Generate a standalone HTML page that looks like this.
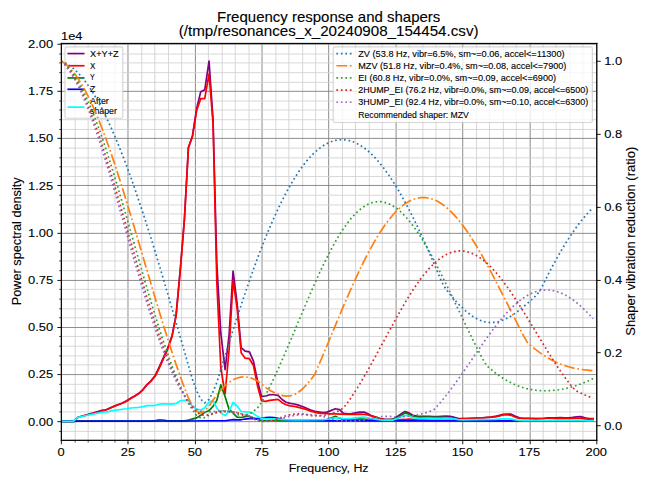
<!DOCTYPE html>
<html><head><meta charset="utf-8"><title>Frequency response and shapers</title><style>html,body{margin:0;padding:0;background:#fff;overflow:hidden}svg{display:block;font-family:"Liberation Sans",sans-serif}text{stroke:#000;stroke-width:0.18px;stroke-opacity:0.6}</style></head><body>
<svg width="650" height="487" preserveAspectRatio="none" viewBox="0 0 576 432" version="1.1">
<defs>
<style type="text/css">*{stroke-linejoin: round; stroke-linecap: butt}</style>
</defs>
<g id="figure_1">
<g id="patch_1">
<path d="M 0 432 
L 576 432 
L 576 0 
L 0 0 
z
" style="fill: #ffffff"/>
</g>
<g id="axes_1">
<g id="patch_2">
<path d="M 54.099692 389.90883 
L 528.369231 389.90883 
L 528.369231 38.143737 
L 54.099692 38.143737 
z
" style="fill: #ffffff"/>
</g>
<g id="matplotlib.axis_1">
<g id="xtick_1">
<g id="line2d_1">
<path d="M 54.3600 390.6000 L 54.3600 38.5200" clip-path="url(#pc51467b4bf)" style="fill: none; stroke: #808080; stroke-width: 0.8; stroke-linecap: square"/>
</g>
<g id="line2d_2">
<defs>
<path id="m7c25c535dc" d="M 0 0 
L 0 3.5 
" style="stroke: #000000; stroke-width: 0.8"/>
</defs>
<g>
<use href="#m7c25c535dc" x="54.3600" y="390.6000" style="stroke: #000000; stroke-width: 0.8"/>
</g>
</g>
<g id="text_1">
<text textLength="6.36" lengthAdjust="spacingAndGlyphs" style="font-size: 10.500px; font-family: 'Liberation Sans'; text-anchor: middle" x="54.099692" y="404.507267" transform="rotate(-0 54.099692 404.507267)">0</text>
</g>
</g>
<g id="xtick_2">
<g id="line2d_3">
<path d="M 113.4000 390.6000 L 113.4000 38.5200" clip-path="url(#pc51467b4bf)" style="fill: none; stroke: #808080; stroke-width: 0.8; stroke-linecap: square"/>
</g>
<g id="line2d_4">
<g>
<use href="#m7c25c535dc" x="113.4000" y="390.6000" style="stroke: #000000; stroke-width: 0.8"/>
</g>
</g>
<g id="text_2">
<text textLength="12.72" lengthAdjust="spacingAndGlyphs" style="font-size: 10.500px; font-family: 'Liberation Sans'; text-anchor: middle" x="113.383385" y="404.507267" transform="rotate(-0 113.383385 404.507267)">25</text>
</g>
</g>
<g id="xtick_3">
<g id="line2d_5">
<path d="M 173.1600 390.6000 L 173.1600 38.5200" clip-path="url(#pc51467b4bf)" style="fill: none; stroke: #808080; stroke-width: 0.8; stroke-linecap: square"/>
</g>
<g id="line2d_6">
<g>
<use href="#m7c25c535dc" x="173.1600" y="390.6000" style="stroke: #000000; stroke-width: 0.8"/>
</g>
</g>
<g id="text_3">
<text textLength="12.72" lengthAdjust="spacingAndGlyphs" style="font-size: 10.500px; font-family: 'Liberation Sans'; text-anchor: middle" x="172.667077" y="404.507267" transform="rotate(-0 172.667077 404.507267)">50</text>
</g>
</g>
<g id="xtick_4">
<g id="line2d_7">
<path d="M 232.2000 390.6000 L 232.2000 38.5200" clip-path="url(#pc51467b4bf)" style="fill: none; stroke: #808080; stroke-width: 0.8; stroke-linecap: square"/>
</g>
<g id="line2d_8">
<g>
<use href="#m7c25c535dc" x="232.2000" y="390.6000" style="stroke: #000000; stroke-width: 0.8"/>
</g>
</g>
<g id="text_4">
<text textLength="12.72" lengthAdjust="spacingAndGlyphs" style="font-size: 10.500px; font-family: 'Liberation Sans'; text-anchor: middle" x="231.950769" y="404.507267" transform="rotate(-0 231.950769 404.507267)">75</text>
</g>
</g>
<g id="xtick_5">
<g id="line2d_9">
<path d="M 291.2400 390.6000 L 291.2400 38.5200" clip-path="url(#pc51467b4bf)" style="fill: none; stroke: #808080; stroke-width: 0.8; stroke-linecap: square"/>
</g>
<g id="line2d_10">
<g>
<use href="#m7c25c535dc" x="291.2400" y="390.6000" style="stroke: #000000; stroke-width: 0.8"/>
</g>
</g>
<g id="text_5">
<text textLength="19.09" lengthAdjust="spacingAndGlyphs" style="font-size: 10.500px; font-family: 'Liberation Sans'; text-anchor: middle" x="291.234462" y="404.507267" transform="rotate(-0 291.234462 404.507267)">100</text>
</g>
</g>
<g id="xtick_6">
<g id="line2d_11">
<path d="M 351.0000 390.6000 L 351.0000 38.5200" clip-path="url(#pc51467b4bf)" style="fill: none; stroke: #808080; stroke-width: 0.8; stroke-linecap: square"/>
</g>
<g id="line2d_12">
<g>
<use href="#m7c25c535dc" x="351.0000" y="390.6000" style="stroke: #000000; stroke-width: 0.8"/>
</g>
</g>
<g id="text_6">
<text textLength="19.09" lengthAdjust="spacingAndGlyphs" style="font-size: 10.500px; font-family: 'Liberation Sans'; text-anchor: middle" x="350.518154" y="404.507267" transform="rotate(-0 350.518154 404.507267)">125</text>
</g>
</g>
<g id="xtick_7">
<g id="line2d_13">
<path d="M 410.0400 390.6000 L 410.0400 38.5200" clip-path="url(#pc51467b4bf)" style="fill: none; stroke: #808080; stroke-width: 0.8; stroke-linecap: square"/>
</g>
<g id="line2d_14">
<g>
<use href="#m7c25c535dc" x="410.0400" y="390.6000" style="stroke: #000000; stroke-width: 0.8"/>
</g>
</g>
<g id="text_7">
<text textLength="19.09" lengthAdjust="spacingAndGlyphs" style="font-size: 10.500px; font-family: 'Liberation Sans'; text-anchor: middle" x="409.801846" y="404.507267" transform="rotate(-0 409.801846 404.507267)">150</text>
</g>
</g>
<g id="xtick_8">
<g id="line2d_15">
<path d="M 469.8000 390.6000 L 469.8000 38.5200" clip-path="url(#pc51467b4bf)" style="fill: none; stroke: #808080; stroke-width: 0.8; stroke-linecap: square"/>
</g>
<g id="line2d_16">
<g>
<use href="#m7c25c535dc" x="469.8000" y="390.6000" style="stroke: #000000; stroke-width: 0.8"/>
</g>
</g>
<g id="text_8">
<text textLength="19.09" lengthAdjust="spacingAndGlyphs" style="font-size: 10.500px; font-family: 'Liberation Sans'; text-anchor: middle" x="469.085538" y="404.507267" transform="rotate(-0 469.085538 404.507267)">175</text>
</g>
</g>
<g id="xtick_9">
<g id="line2d_17">
<path d="M 528.8400 390.6000 L 528.8400 38.5200" clip-path="url(#pc51467b4bf)" style="fill: none; stroke: #808080; stroke-width: 0.8; stroke-linecap: square"/>
</g>
<g id="line2d_18">
<g>
<use href="#m7c25c535dc" x="528.8400" y="390.6000" style="stroke: #000000; stroke-width: 0.8"/>
</g>
</g>
<g id="text_9">
<text textLength="19.09" lengthAdjust="spacingAndGlyphs" style="font-size: 10.500px; font-family: 'Liberation Sans'; text-anchor: middle" x="528.369231" y="404.507267" transform="rotate(-0 528.369231 404.507267)">200</text>
</g>
</g>
<g id="xtick_10">
<g id="line2d_19">
<path d="M 66.6000 390.6000 L 66.6000 38.5200" clip-path="url(#pc51467b4bf)" style="fill: none; stroke: #d3d3d3; stroke-width: 0.8; stroke-linecap: square"/>
</g>
<g id="line2d_20">
<defs>
<path id="m0d65b069a9" d="M 0 0 
L 0 2 
" style="stroke: #000000; stroke-width: 0.6"/>
</defs>
<g>
<use href="#m0d65b069a9" x="66.6000" y="390.6000" style="stroke: #000000; stroke-width: 0.6"/>
</g>
</g>
</g>
<g id="xtick_11">
<g id="line2d_21">
<path d="M 78.1200 390.6000 L 78.1200 38.5200" clip-path="url(#pc51467b4bf)" style="fill: none; stroke: #d3d3d3; stroke-width: 0.8; stroke-linecap: square"/>
</g>
<g id="line2d_22">
<g>
<use href="#m0d65b069a9" x="78.1200" y="390.6000" style="stroke: #000000; stroke-width: 0.6"/>
</g>
</g>
</g>
<g id="xtick_12">
<g id="line2d_23">
<path d="M 90.3600 390.6000 L 90.3600 38.5200" clip-path="url(#pc51467b4bf)" style="fill: none; stroke: #d3d3d3; stroke-width: 0.8; stroke-linecap: square"/>
</g>
<g id="line2d_24">
<g>
<use href="#m0d65b069a9" x="90.3600" y="390.6000" style="stroke: #000000; stroke-width: 0.6"/>
</g>
</g>
</g>
<g id="xtick_13">
<g id="line2d_25">
<path d="M 101.8800 390.6000 L 101.8800 38.5200" clip-path="url(#pc51467b4bf)" style="fill: none; stroke: #d3d3d3; stroke-width: 0.8; stroke-linecap: square"/>
</g>
<g id="line2d_26">
<g>
<use href="#m0d65b069a9" x="101.8800" y="390.6000" style="stroke: #000000; stroke-width: 0.6"/>
</g>
</g>
</g>
<g id="xtick_14">
<g id="line2d_27">
<path d="M 125.6400 390.6000 L 125.6400 38.5200" clip-path="url(#pc51467b4bf)" style="fill: none; stroke: #d3d3d3; stroke-width: 0.8; stroke-linecap: square"/>
</g>
<g id="line2d_28">
<g>
<use href="#m0d65b069a9" x="125.6400" y="390.6000" style="stroke: #000000; stroke-width: 0.6"/>
</g>
</g>
</g>
<g id="xtick_15">
<g id="line2d_29">
<path d="M 137.1600 390.6000 L 137.1600 38.5200" clip-path="url(#pc51467b4bf)" style="fill: none; stroke: #d3d3d3; stroke-width: 0.8; stroke-linecap: square"/>
</g>
<g id="line2d_30">
<g>
<use href="#m0d65b069a9" x="137.1600" y="390.6000" style="stroke: #000000; stroke-width: 0.6"/>
</g>
</g>
</g>
<g id="xtick_16">
<g id="line2d_31">
<path d="M 149.4000 390.6000 L 149.4000 38.5200" clip-path="url(#pc51467b4bf)" style="fill: none; stroke: #d3d3d3; stroke-width: 0.8; stroke-linecap: square"/>
</g>
<g id="line2d_32">
<g>
<use href="#m0d65b069a9" x="149.4000" y="390.6000" style="stroke: #000000; stroke-width: 0.6"/>
</g>
</g>
</g>
<g id="xtick_17">
<g id="line2d_33">
<path d="M 160.9200 390.6000 L 160.9200 38.5200" clip-path="url(#pc51467b4bf)" style="fill: none; stroke: #d3d3d3; stroke-width: 0.8; stroke-linecap: square"/>
</g>
<g id="line2d_34">
<g>
<use href="#m0d65b069a9" x="160.9200" y="390.6000" style="stroke: #000000; stroke-width: 0.6"/>
</g>
</g>
</g>
<g id="xtick_18">
<g id="line2d_35">
<path d="M 184.6800 390.6000 L 184.6800 38.5200" clip-path="url(#pc51467b4bf)" style="fill: none; stroke: #d3d3d3; stroke-width: 0.8; stroke-linecap: square"/>
</g>
<g id="line2d_36">
<g>
<use href="#m0d65b069a9" x="184.6800" y="390.6000" style="stroke: #000000; stroke-width: 0.6"/>
</g>
</g>
</g>
<g id="xtick_19">
<g id="line2d_37">
<path d="M 196.9200 390.6000 L 196.9200 38.5200" clip-path="url(#pc51467b4bf)" style="fill: none; stroke: #d3d3d3; stroke-width: 0.8; stroke-linecap: square"/>
</g>
<g id="line2d_38">
<g>
<use href="#m0d65b069a9" x="196.9200" y="390.6000" style="stroke: #000000; stroke-width: 0.6"/>
</g>
</g>
</g>
<g id="xtick_20">
<g id="line2d_39">
<path d="M 208.4400 390.6000 L 208.4400 38.5200" clip-path="url(#pc51467b4bf)" style="fill: none; stroke: #d3d3d3; stroke-width: 0.8; stroke-linecap: square"/>
</g>
<g id="line2d_40">
<g>
<use href="#m0d65b069a9" x="208.4400" y="390.6000" style="stroke: #000000; stroke-width: 0.6"/>
</g>
</g>
</g>
<g id="xtick_21">
<g id="line2d_41">
<path d="M 220.6800 390.6000 L 220.6800 38.5200" clip-path="url(#pc51467b4bf)" style="fill: none; stroke: #d3d3d3; stroke-width: 0.8; stroke-linecap: square"/>
</g>
<g id="line2d_42">
<g>
<use href="#m0d65b069a9" x="220.6800" y="390.6000" style="stroke: #000000; stroke-width: 0.6"/>
</g>
</g>
</g>
<g id="xtick_22">
<g id="line2d_43">
<path d="M 244.4400 390.6000 L 244.4400 38.5200" clip-path="url(#pc51467b4bf)" style="fill: none; stroke: #d3d3d3; stroke-width: 0.8; stroke-linecap: square"/>
</g>
<g id="line2d_44">
<g>
<use href="#m0d65b069a9" x="244.4400" y="390.6000" style="stroke: #000000; stroke-width: 0.6"/>
</g>
</g>
</g>
<g id="xtick_23">
<g id="line2d_45">
<path d="M 255.9600 390.6000 L 255.9600 38.5200" clip-path="url(#pc51467b4bf)" style="fill: none; stroke: #d3d3d3; stroke-width: 0.8; stroke-linecap: square"/>
</g>
<g id="line2d_46">
<g>
<use href="#m0d65b069a9" x="255.9600" y="390.6000" style="stroke: #000000; stroke-width: 0.6"/>
</g>
</g>
</g>
<g id="xtick_24">
<g id="line2d_47">
<path d="M 268.2000 390.6000 L 268.2000 38.5200" clip-path="url(#pc51467b4bf)" style="fill: none; stroke: #d3d3d3; stroke-width: 0.8; stroke-linecap: square"/>
</g>
<g id="line2d_48">
<g>
<use href="#m0d65b069a9" x="268.2000" y="390.6000" style="stroke: #000000; stroke-width: 0.6"/>
</g>
</g>
</g>
<g id="xtick_25">
<g id="line2d_49">
<path d="M 279.7200 390.6000 L 279.7200 38.5200" clip-path="url(#pc51467b4bf)" style="fill: none; stroke: #d3d3d3; stroke-width: 0.8; stroke-linecap: square"/>
</g>
<g id="line2d_50">
<g>
<use href="#m0d65b069a9" x="279.7200" y="390.6000" style="stroke: #000000; stroke-width: 0.6"/>
</g>
</g>
</g>
<g id="xtick_26">
<g id="line2d_51">
<path d="M 303.4800 390.6000 L 303.4800 38.5200" clip-path="url(#pc51467b4bf)" style="fill: none; stroke: #d3d3d3; stroke-width: 0.8; stroke-linecap: square"/>
</g>
<g id="line2d_52">
<g>
<use href="#m0d65b069a9" x="303.4800" y="390.6000" style="stroke: #000000; stroke-width: 0.6"/>
</g>
</g>
</g>
<g id="xtick_27">
<g id="line2d_53">
<path d="M 315.0000 390.6000 L 315.0000 38.5200" clip-path="url(#pc51467b4bf)" style="fill: none; stroke: #d3d3d3; stroke-width: 0.8; stroke-linecap: square"/>
</g>
<g id="line2d_54">
<g>
<use href="#m0d65b069a9" x="315.0000" y="390.6000" style="stroke: #000000; stroke-width: 0.6"/>
</g>
</g>
</g>
<g id="xtick_28">
<g id="line2d_55">
<path d="M 327.2400 390.6000 L 327.2400 38.5200" clip-path="url(#pc51467b4bf)" style="fill: none; stroke: #d3d3d3; stroke-width: 0.8; stroke-linecap: square"/>
</g>
<g id="line2d_56">
<g>
<use href="#m0d65b069a9" x="327.2400" y="390.6000" style="stroke: #000000; stroke-width: 0.6"/>
</g>
</g>
</g>
<g id="xtick_29">
<g id="line2d_57">
<path d="M 338.7600 390.6000 L 338.7600 38.5200" clip-path="url(#pc51467b4bf)" style="fill: none; stroke: #d3d3d3; stroke-width: 0.8; stroke-linecap: square"/>
</g>
<g id="line2d_58">
<g>
<use href="#m0d65b069a9" x="338.7600" y="390.6000" style="stroke: #000000; stroke-width: 0.6"/>
</g>
</g>
</g>
<g id="xtick_30">
<g id="line2d_59">
<path d="M 362.5200 390.6000 L 362.5200 38.5200" clip-path="url(#pc51467b4bf)" style="fill: none; stroke: #d3d3d3; stroke-width: 0.8; stroke-linecap: square"/>
</g>
<g id="line2d_60">
<g>
<use href="#m0d65b069a9" x="362.5200" y="390.6000" style="stroke: #000000; stroke-width: 0.6"/>
</g>
</g>
</g>
<g id="xtick_31">
<g id="line2d_61">
<path d="M 374.7600 390.6000 L 374.7600 38.5200" clip-path="url(#pc51467b4bf)" style="fill: none; stroke: #d3d3d3; stroke-width: 0.8; stroke-linecap: square"/>
</g>
<g id="line2d_62">
<g>
<use href="#m0d65b069a9" x="374.7600" y="390.6000" style="stroke: #000000; stroke-width: 0.6"/>
</g>
</g>
</g>
<g id="xtick_32">
<g id="line2d_63">
<path d="M 386.2800 390.6000 L 386.2800 38.5200" clip-path="url(#pc51467b4bf)" style="fill: none; stroke: #d3d3d3; stroke-width: 0.8; stroke-linecap: square"/>
</g>
<g id="line2d_64">
<g>
<use href="#m0d65b069a9" x="386.2800" y="390.6000" style="stroke: #000000; stroke-width: 0.6"/>
</g>
</g>
</g>
<g id="xtick_33">
<g id="line2d_65">
<path d="M 398.5200 390.6000 L 398.5200 38.5200" clip-path="url(#pc51467b4bf)" style="fill: none; stroke: #d3d3d3; stroke-width: 0.8; stroke-linecap: square"/>
</g>
<g id="line2d_66">
<g>
<use href="#m0d65b069a9" x="398.5200" y="390.6000" style="stroke: #000000; stroke-width: 0.6"/>
</g>
</g>
</g>
<g id="xtick_34">
<g id="line2d_67">
<path d="M 422.2800 390.6000 L 422.2800 38.5200" clip-path="url(#pc51467b4bf)" style="fill: none; stroke: #d3d3d3; stroke-width: 0.8; stroke-linecap: square"/>
</g>
<g id="line2d_68">
<g>
<use href="#m0d65b069a9" x="422.2800" y="390.6000" style="stroke: #000000; stroke-width: 0.6"/>
</g>
</g>
</g>
<g id="xtick_35">
<g id="line2d_69">
<path d="M 433.8000 390.6000 L 433.8000 38.5200" clip-path="url(#pc51467b4bf)" style="fill: none; stroke: #d3d3d3; stroke-width: 0.8; stroke-linecap: square"/>
</g>
<g id="line2d_70">
<g>
<use href="#m0d65b069a9" x="433.8000" y="390.6000" style="stroke: #000000; stroke-width: 0.6"/>
</g>
</g>
</g>
<g id="xtick_36">
<g id="line2d_71">
<path d="M 446.0400 390.6000 L 446.0400 38.5200" clip-path="url(#pc51467b4bf)" style="fill: none; stroke: #d3d3d3; stroke-width: 0.8; stroke-linecap: square"/>
</g>
<g id="line2d_72">
<g>
<use href="#m0d65b069a9" x="446.0400" y="390.6000" style="stroke: #000000; stroke-width: 0.6"/>
</g>
</g>
</g>
<g id="xtick_37">
<g id="line2d_73">
<path d="M 457.5600 390.6000 L 457.5600 38.5200" clip-path="url(#pc51467b4bf)" style="fill: none; stroke: #d3d3d3; stroke-width: 0.8; stroke-linecap: square"/>
</g>
<g id="line2d_74">
<g>
<use href="#m0d65b069a9" x="457.5600" y="390.6000" style="stroke: #000000; stroke-width: 0.6"/>
</g>
</g>
</g>
<g id="xtick_38">
<g id="line2d_75">
<path d="M 481.3200 390.6000 L 481.3200 38.5200" clip-path="url(#pc51467b4bf)" style="fill: none; stroke: #d3d3d3; stroke-width: 0.8; stroke-linecap: square"/>
</g>
<g id="line2d_76">
<g>
<use href="#m0d65b069a9" x="481.3200" y="390.6000" style="stroke: #000000; stroke-width: 0.6"/>
</g>
</g>
</g>
<g id="xtick_39">
<g id="line2d_77">
<path d="M 492.8400 390.6000 L 492.8400 38.5200" clip-path="url(#pc51467b4bf)" style="fill: none; stroke: #d3d3d3; stroke-width: 0.8; stroke-linecap: square"/>
</g>
<g id="line2d_78">
<g>
<use href="#m0d65b069a9" x="492.8400" y="390.6000" style="stroke: #000000; stroke-width: 0.6"/>
</g>
</g>
</g>
<g id="xtick_40">
<g id="line2d_79">
<path d="M 505.0800 390.6000 L 505.0800 38.5200" clip-path="url(#pc51467b4bf)" style="fill: none; stroke: #d3d3d3; stroke-width: 0.8; stroke-linecap: square"/>
</g>
<g id="line2d_80">
<g>
<use href="#m0d65b069a9" x="505.0800" y="390.6000" style="stroke: #000000; stroke-width: 0.6"/>
</g>
</g>
</g>
<g id="xtick_41">
<g id="line2d_81">
<path d="M 516.6000 390.6000 L 516.6000 38.5200" clip-path="url(#pc51467b4bf)" style="fill: none; stroke: #d3d3d3; stroke-width: 0.8; stroke-linecap: square"/>
</g>
<g id="line2d_82">
<g>
<use href="#m0d65b069a9" x="516.6000" y="390.6000" style="stroke: #000000; stroke-width: 0.6"/>
</g>
</g>
</g>
<g id="text_10">
<text textLength="70.79" lengthAdjust="spacingAndGlyphs" style="font-size: 10.500px; font-family: 'Liberation Sans'; text-anchor: middle" x="291.234462" y="418.885392" transform="rotate(-0 291.234462 418.885392)">Frequency, Hz</text>
</g>
</g>
<g id="matplotlib.axis_2">
<g id="ytick_1">
<g id="line2d_83">
<path d="M 54.3600 374.0400 L 528.8400 374.0400" clip-path="url(#pc51467b4bf)" style="fill: none; stroke: #808080; stroke-width: 0.8; stroke-linecap: square"/>
</g>
<g id="line2d_84">
<defs>
<path id="mb258c49b38" d="M 0 0 
L -3.5 0 
" style="stroke: #000000; stroke-width: 0.8"/>
</defs>
<g>
<use href="#mb258c49b38" x="54.3600" y="374.0400" style="stroke: #000000; stroke-width: 0.8"/>
</g>
</g>
<g id="text_11">
<text textLength="22.27" lengthAdjust="spacingAndGlyphs" style="font-size: 10.500px; font-family: 'Liberation Sans'; text-anchor: end" x="47.099692" y="377.519137" transform="rotate(-0 47.099692 377.519137)">0.00</text>
</g>
</g>
<g id="ytick_2">
<g id="line2d_85">
<path d="M 54.3600 332.2800 L 528.8400 332.2800" clip-path="url(#pc51467b4bf)" style="fill: none; stroke: #808080; stroke-width: 0.8; stroke-linecap: square"/>
</g>
<g id="line2d_86">
<g>
<use href="#mb258c49b38" x="54.3600" y="332.2800" style="stroke: #000000; stroke-width: 0.8"/>
</g>
</g>
<g id="text_12">
<text textLength="22.27" lengthAdjust="spacingAndGlyphs" style="font-size: 10.500px; font-family: 'Liberation Sans'; text-anchor: end" x="47.099692" y="335.665256" transform="rotate(-0 47.099692 335.665256)">0.25</text>
</g>
</g>
<g id="ytick_3">
<g id="line2d_87">
<path d="M 54.3600 290.5200 L 528.8400 290.5200" clip-path="url(#pc51467b4bf)" style="fill: none; stroke: #808080; stroke-width: 0.8; stroke-linecap: square"/>
</g>
<g id="line2d_88">
<g>
<use href="#mb258c49b38" x="54.3600" y="290.5200" style="stroke: #000000; stroke-width: 0.8"/>
</g>
</g>
<g id="text_13">
<text textLength="22.27" lengthAdjust="spacingAndGlyphs" style="font-size: 10.500px; font-family: 'Liberation Sans'; text-anchor: end" x="47.099692" y="293.811375" transform="rotate(-0 47.099692 293.811375)">0.50</text>
</g>
</g>
<g id="ytick_4">
<g id="line2d_89">
<path d="M 54.3600 248.7600 L 528.8400 248.7600" clip-path="url(#pc51467b4bf)" style="fill: none; stroke: #808080; stroke-width: 0.8; stroke-linecap: square"/>
</g>
<g id="line2d_90">
<g>
<use href="#mb258c49b38" x="54.3600" y="248.7600" style="stroke: #000000; stroke-width: 0.8"/>
</g>
</g>
<g id="text_14">
<text textLength="22.27" lengthAdjust="spacingAndGlyphs" style="font-size: 10.500px; font-family: 'Liberation Sans'; text-anchor: end" x="47.099692" y="251.957494" transform="rotate(-0 47.099692 251.957494)">0.75</text>
</g>
</g>
<g id="ytick_5">
<g id="line2d_91">
<path d="M 54.3600 207.0000 L 528.8400 207.0000" clip-path="url(#pc51467b4bf)" style="fill: none; stroke: #808080; stroke-width: 0.8; stroke-linecap: square"/>
</g>
<g id="line2d_92">
<g>
<use href="#mb258c49b38" x="54.3600" y="207.0000" style="stroke: #000000; stroke-width: 0.8"/>
</g>
</g>
<g id="text_15">
<text textLength="22.27" lengthAdjust="spacingAndGlyphs" style="font-size: 10.500px; font-family: 'Liberation Sans'; text-anchor: end" x="47.099692" y="210.103613" transform="rotate(-0 47.099692 210.103613)">1.00</text>
</g>
</g>
<g id="ytick_6">
<g id="line2d_93">
<path d="M 54.3600 164.5200 L 528.8400 164.5200" clip-path="url(#pc51467b4bf)" style="fill: none; stroke: #808080; stroke-width: 0.8; stroke-linecap: square"/>
</g>
<g id="line2d_94">
<g>
<use href="#mb258c49b38" x="54.3600" y="164.5200" style="stroke: #000000; stroke-width: 0.8"/>
</g>
</g>
<g id="text_16">
<text textLength="22.27" lengthAdjust="spacingAndGlyphs" style="font-size: 10.500px; font-family: 'Liberation Sans'; text-anchor: end" x="47.099692" y="168.249732" transform="rotate(-0 47.099692 168.249732)">1.25</text>
</g>
</g>
<g id="ytick_7">
<g id="line2d_95">
<path d="M 54.3600 122.7600 L 528.8400 122.7600" clip-path="url(#pc51467b4bf)" style="fill: none; stroke: #808080; stroke-width: 0.8; stroke-linecap: square"/>
</g>
<g id="line2d_96">
<g>
<use href="#mb258c49b38" x="54.3600" y="122.7600" style="stroke: #000000; stroke-width: 0.8"/>
</g>
</g>
<g id="text_17">
<text textLength="22.27" lengthAdjust="spacingAndGlyphs" style="font-size: 10.500px; font-family: 'Liberation Sans'; text-anchor: end" x="47.099692" y="126.395851" transform="rotate(-0 47.099692 126.395851)">1.50</text>
</g>
</g>
<g id="ytick_8">
<g id="line2d_97">
<path d="M 54.3600 81.0000 L 528.8400 81.0000" clip-path="url(#pc51467b4bf)" style="fill: none; stroke: #808080; stroke-width: 0.8; stroke-linecap: square"/>
</g>
<g id="line2d_98">
<g>
<use href="#mb258c49b38" x="54.3600" y="81.0000" style="stroke: #000000; stroke-width: 0.8"/>
</g>
</g>
<g id="text_18">
<text textLength="22.27" lengthAdjust="spacingAndGlyphs" style="font-size: 10.500px; font-family: 'Liberation Sans'; text-anchor: end" x="47.099692" y="84.54197" transform="rotate(-0 47.099692 84.54197)">1.75</text>
</g>
</g>
<g id="ytick_9">
<g id="line2d_99">
<path d="M 54.3600 39.2400 L 528.8400 39.2400" clip-path="url(#pc51467b4bf)" style="fill: none; stroke: #808080; stroke-width: 0.8; stroke-linecap: square"/>
</g>
<g id="line2d_100">
<g>
<use href="#mb258c49b38" x="54.3600" y="39.2400" style="stroke: #000000; stroke-width: 0.8"/>
</g>
</g>
<g id="text_19">
<text textLength="22.27" lengthAdjust="spacingAndGlyphs" style="font-size: 10.500px; font-family: 'Liberation Sans'; text-anchor: end" x="47.099692" y="42.688089" transform="rotate(-0 47.099692 42.688089)">2.00</text>
</g>
</g>
<g id="ytick_10">
<g id="line2d_101">
<path d="M 54.3600 382.6800 L 528.8400 382.6800" clip-path="url(#pc51467b4bf)" style="fill: none; stroke: #d3d3d3; stroke-width: 0.8; stroke-linecap: square"/>
</g>
<g id="line2d_102">
<defs>
<path id="m353c5a86b0" d="M 0 0 
L -2 0 
" style="stroke: #000000; stroke-width: 0.6"/>
</defs>
<g>
<use href="#m353c5a86b0" x="54.3600" y="382.6800" style="stroke: #000000; stroke-width: 0.6"/>
</g>
</g>
</g>
<g id="ytick_11">
<g id="line2d_103">
<path d="M 54.3600 365.4000 L 528.8400 365.4000" clip-path="url(#pc51467b4bf)" style="fill: none; stroke: #d3d3d3; stroke-width: 0.8; stroke-linecap: square"/>
</g>
<g id="line2d_104">
<g>
<use href="#m353c5a86b0" x="54.3600" y="365.4000" style="stroke: #000000; stroke-width: 0.6"/>
</g>
</g>
</g>
<g id="ytick_12">
<g id="line2d_105">
<path d="M 54.3600 357.4800 L 528.8400 357.4800" clip-path="url(#pc51467b4bf)" style="fill: none; stroke: #d3d3d3; stroke-width: 0.8; stroke-linecap: square"/>
</g>
<g id="line2d_106">
<g>
<use href="#m353c5a86b0" x="54.3600" y="357.4800" style="stroke: #000000; stroke-width: 0.6"/>
</g>
</g>
</g>
<g id="ytick_13">
<g id="line2d_107">
<path d="M 54.3600 348.8400 L 528.8400 348.8400" clip-path="url(#pc51467b4bf)" style="fill: none; stroke: #d3d3d3; stroke-width: 0.8; stroke-linecap: square"/>
</g>
<g id="line2d_108">
<g>
<use href="#m353c5a86b0" x="54.3600" y="348.8400" style="stroke: #000000; stroke-width: 0.6"/>
</g>
</g>
</g>
<g id="ytick_14">
<g id="line2d_109">
<path d="M 54.3600 340.9200 L 528.8400 340.9200" clip-path="url(#pc51467b4bf)" style="fill: none; stroke: #d3d3d3; stroke-width: 0.8; stroke-linecap: square"/>
</g>
<g id="line2d_110">
<g>
<use href="#m353c5a86b0" x="54.3600" y="340.9200" style="stroke: #000000; stroke-width: 0.6"/>
</g>
</g>
</g>
<g id="ytick_15">
<g id="line2d_111">
<path d="M 54.3600 323.6400 L 528.8400 323.6400" clip-path="url(#pc51467b4bf)" style="fill: none; stroke: #d3d3d3; stroke-width: 0.8; stroke-linecap: square"/>
</g>
<g id="line2d_112">
<g>
<use href="#m353c5a86b0" x="54.3600" y="323.6400" style="stroke: #000000; stroke-width: 0.6"/>
</g>
</g>
</g>
<g id="ytick_16">
<g id="line2d_113">
<path d="M 54.3600 315.7200 L 528.8400 315.7200" clip-path="url(#pc51467b4bf)" style="fill: none; stroke: #d3d3d3; stroke-width: 0.8; stroke-linecap: square"/>
</g>
<g id="line2d_114">
<g>
<use href="#m353c5a86b0" x="54.3600" y="315.7200" style="stroke: #000000; stroke-width: 0.6"/>
</g>
</g>
</g>
<g id="ytick_17">
<g id="line2d_115">
<path d="M 54.3600 307.0800 L 528.8400 307.0800" clip-path="url(#pc51467b4bf)" style="fill: none; stroke: #d3d3d3; stroke-width: 0.8; stroke-linecap: square"/>
</g>
<g id="line2d_116">
<g>
<use href="#m353c5a86b0" x="54.3600" y="307.0800" style="stroke: #000000; stroke-width: 0.6"/>
</g>
</g>
</g>
<g id="ytick_18">
<g id="line2d_117">
<path d="M 54.3600 298.4400 L 528.8400 298.4400" clip-path="url(#pc51467b4bf)" style="fill: none; stroke: #d3d3d3; stroke-width: 0.8; stroke-linecap: square"/>
</g>
<g id="line2d_118">
<g>
<use href="#m353c5a86b0" x="54.3600" y="298.4400" style="stroke: #000000; stroke-width: 0.6"/>
</g>
</g>
</g>
<g id="ytick_19">
<g id="line2d_119">
<path d="M 54.3600 281.8800 L 528.8400 281.8800" clip-path="url(#pc51467b4bf)" style="fill: none; stroke: #d3d3d3; stroke-width: 0.8; stroke-linecap: square"/>
</g>
<g id="line2d_120">
<g>
<use href="#m353c5a86b0" x="54.3600" y="281.8800" style="stroke: #000000; stroke-width: 0.6"/>
</g>
</g>
</g>
<g id="ytick_20">
<g id="line2d_121">
<path d="M 54.3600 273.9600 L 528.8400 273.9600" clip-path="url(#pc51467b4bf)" style="fill: none; stroke: #d3d3d3; stroke-width: 0.8; stroke-linecap: square"/>
</g>
<g id="line2d_122">
<g>
<use href="#m353c5a86b0" x="54.3600" y="273.9600" style="stroke: #000000; stroke-width: 0.6"/>
</g>
</g>
</g>
<g id="ytick_21">
<g id="line2d_123">
<path d="M 54.3600 265.3200 L 528.8400 265.3200" clip-path="url(#pc51467b4bf)" style="fill: none; stroke: #d3d3d3; stroke-width: 0.8; stroke-linecap: square"/>
</g>
<g id="line2d_124">
<g>
<use href="#m353c5a86b0" x="54.3600" y="265.3200" style="stroke: #000000; stroke-width: 0.6"/>
</g>
</g>
</g>
<g id="ytick_22">
<g id="line2d_125">
<path d="M 54.3600 256.6800 L 528.8400 256.6800" clip-path="url(#pc51467b4bf)" style="fill: none; stroke: #d3d3d3; stroke-width: 0.8; stroke-linecap: square"/>
</g>
<g id="line2d_126">
<g>
<use href="#m353c5a86b0" x="54.3600" y="256.6800" style="stroke: #000000; stroke-width: 0.6"/>
</g>
</g>
</g>
<g id="ytick_23">
<g id="line2d_127">
<path d="M 54.3600 240.1200 L 528.8400 240.1200" clip-path="url(#pc51467b4bf)" style="fill: none; stroke: #d3d3d3; stroke-width: 0.8; stroke-linecap: square"/>
</g>
<g id="line2d_128">
<g>
<use href="#m353c5a86b0" x="54.3600" y="240.1200" style="stroke: #000000; stroke-width: 0.6"/>
</g>
</g>
</g>
<g id="ytick_24">
<g id="line2d_129">
<path d="M 54.3600 231.4800 L 528.8400 231.4800" clip-path="url(#pc51467b4bf)" style="fill: none; stroke: #d3d3d3; stroke-width: 0.8; stroke-linecap: square"/>
</g>
<g id="line2d_130">
<g>
<use href="#m353c5a86b0" x="54.3600" y="231.4800" style="stroke: #000000; stroke-width: 0.6"/>
</g>
</g>
</g>
<g id="ytick_25">
<g id="line2d_131">
<path d="M 54.3600 223.5600 L 528.8400 223.5600" clip-path="url(#pc51467b4bf)" style="fill: none; stroke: #d3d3d3; stroke-width: 0.8; stroke-linecap: square"/>
</g>
<g id="line2d_132">
<g>
<use href="#m353c5a86b0" x="54.3600" y="223.5600" style="stroke: #000000; stroke-width: 0.6"/>
</g>
</g>
</g>
<g id="ytick_26">
<g id="line2d_133">
<path d="M 54.3600 214.9200 L 528.8400 214.9200" clip-path="url(#pc51467b4bf)" style="fill: none; stroke: #d3d3d3; stroke-width: 0.8; stroke-linecap: square"/>
</g>
<g id="line2d_134">
<g>
<use href="#m353c5a86b0" x="54.3600" y="214.9200" style="stroke: #000000; stroke-width: 0.6"/>
</g>
</g>
</g>
<g id="ytick_27">
<g id="line2d_135">
<path d="M 54.3600 198.3600 L 528.8400 198.3600" clip-path="url(#pc51467b4bf)" style="fill: none; stroke: #d3d3d3; stroke-width: 0.8; stroke-linecap: square"/>
</g>
<g id="line2d_136">
<g>
<use href="#m353c5a86b0" x="54.3600" y="198.3600" style="stroke: #000000; stroke-width: 0.6"/>
</g>
</g>
</g>
<g id="ytick_28">
<g id="line2d_137">
<path d="M 54.3600 189.7200 L 528.8400 189.7200" clip-path="url(#pc51467b4bf)" style="fill: none; stroke: #d3d3d3; stroke-width: 0.8; stroke-linecap: square"/>
</g>
<g id="line2d_138">
<g>
<use href="#m353c5a86b0" x="54.3600" y="189.7200" style="stroke: #000000; stroke-width: 0.6"/>
</g>
</g>
</g>
<g id="ytick_29">
<g id="line2d_139">
<path d="M 54.3600 181.8000 L 528.8400 181.8000" clip-path="url(#pc51467b4bf)" style="fill: none; stroke: #d3d3d3; stroke-width: 0.8; stroke-linecap: square"/>
</g>
<g id="line2d_140">
<g>
<use href="#m353c5a86b0" x="54.3600" y="181.8000" style="stroke: #000000; stroke-width: 0.6"/>
</g>
</g>
</g>
<g id="ytick_30">
<g id="line2d_141">
<path d="M 54.3600 173.1600 L 528.8400 173.1600" clip-path="url(#pc51467b4bf)" style="fill: none; stroke: #d3d3d3; stroke-width: 0.8; stroke-linecap: square"/>
</g>
<g id="line2d_142">
<g>
<use href="#m353c5a86b0" x="54.3600" y="173.1600" style="stroke: #000000; stroke-width: 0.6"/>
</g>
</g>
</g>
<g id="ytick_31">
<g id="line2d_143">
<path d="M 54.3600 156.6000 L 528.8400 156.6000" clip-path="url(#pc51467b4bf)" style="fill: none; stroke: #d3d3d3; stroke-width: 0.8; stroke-linecap: square"/>
</g>
<g id="line2d_144">
<g>
<use href="#m353c5a86b0" x="54.3600" y="156.6000" style="stroke: #000000; stroke-width: 0.6"/>
</g>
</g>
</g>
<g id="ytick_32">
<g id="line2d_145">
<path d="M 54.3600 147.9600 L 528.8400 147.9600" clip-path="url(#pc51467b4bf)" style="fill: none; stroke: #d3d3d3; stroke-width: 0.8; stroke-linecap: square"/>
</g>
<g id="line2d_146">
<g>
<use href="#m353c5a86b0" x="54.3600" y="147.9600" style="stroke: #000000; stroke-width: 0.6"/>
</g>
</g>
</g>
<g id="ytick_33">
<g id="line2d_147">
<path d="M 54.3600 140.0400 L 528.8400 140.0400" clip-path="url(#pc51467b4bf)" style="fill: none; stroke: #d3d3d3; stroke-width: 0.8; stroke-linecap: square"/>
</g>
<g id="line2d_148">
<g>
<use href="#m353c5a86b0" x="54.3600" y="140.0400" style="stroke: #000000; stroke-width: 0.6"/>
</g>
</g>
</g>
<g id="ytick_34">
<g id="line2d_149">
<path d="M 54.3600 131.4000 L 528.8400 131.4000" clip-path="url(#pc51467b4bf)" style="fill: none; stroke: #d3d3d3; stroke-width: 0.8; stroke-linecap: square"/>
</g>
<g id="line2d_150">
<g>
<use href="#m353c5a86b0" x="54.3600" y="131.4000" style="stroke: #000000; stroke-width: 0.6"/>
</g>
</g>
</g>
<g id="ytick_35">
<g id="line2d_151">
<path d="M 54.3600 114.8400 L 528.8400 114.8400" clip-path="url(#pc51467b4bf)" style="fill: none; stroke: #d3d3d3; stroke-width: 0.8; stroke-linecap: square"/>
</g>
<g id="line2d_152">
<g>
<use href="#m353c5a86b0" x="54.3600" y="114.8400" style="stroke: #000000; stroke-width: 0.6"/>
</g>
</g>
</g>
<g id="ytick_36">
<g id="line2d_153">
<path d="M 54.3600 106.2000 L 528.8400 106.2000" clip-path="url(#pc51467b4bf)" style="fill: none; stroke: #d3d3d3; stroke-width: 0.8; stroke-linecap: square"/>
</g>
<g id="line2d_154">
<g>
<use href="#m353c5a86b0" x="54.3600" y="106.2000" style="stroke: #000000; stroke-width: 0.6"/>
</g>
</g>
</g>
<g id="ytick_37">
<g id="line2d_155">
<path d="M 54.3600 97.5600 L 528.8400 97.5600" clip-path="url(#pc51467b4bf)" style="fill: none; stroke: #d3d3d3; stroke-width: 0.8; stroke-linecap: square"/>
</g>
<g id="line2d_156">
<g>
<use href="#m353c5a86b0" x="54.3600" y="97.5600" style="stroke: #000000; stroke-width: 0.6"/>
</g>
</g>
</g>
<g id="ytick_38">
<g id="line2d_157">
<path d="M 54.3600 89.6400 L 528.8400 89.6400" clip-path="url(#pc51467b4bf)" style="fill: none; stroke: #d3d3d3; stroke-width: 0.8; stroke-linecap: square"/>
</g>
<g id="line2d_158">
<g>
<use href="#m353c5a86b0" x="54.3600" y="89.6400" style="stroke: #000000; stroke-width: 0.6"/>
</g>
</g>
</g>
<g id="ytick_39">
<g id="line2d_159">
<path d="M 54.3600 73.0800 L 528.8400 73.0800" clip-path="url(#pc51467b4bf)" style="fill: none; stroke: #d3d3d3; stroke-width: 0.8; stroke-linecap: square"/>
</g>
<g id="line2d_160">
<g>
<use href="#m353c5a86b0" x="54.3600" y="73.0800" style="stroke: #000000; stroke-width: 0.6"/>
</g>
</g>
</g>
<g id="ytick_40">
<g id="line2d_161">
<path d="M 54.3600 64.4400 L 528.8400 64.4400" clip-path="url(#pc51467b4bf)" style="fill: none; stroke: #d3d3d3; stroke-width: 0.8; stroke-linecap: square"/>
</g>
<g id="line2d_162">
<g>
<use href="#m353c5a86b0" x="54.3600" y="64.4400" style="stroke: #000000; stroke-width: 0.6"/>
</g>
</g>
</g>
<g id="ytick_41">
<g id="line2d_163">
<path d="M 54.3600 55.8000 L 528.8400 55.8000" clip-path="url(#pc51467b4bf)" style="fill: none; stroke: #d3d3d3; stroke-width: 0.8; stroke-linecap: square"/>
</g>
<g id="line2d_164">
<g>
<use href="#m353c5a86b0" x="54.3600" y="55.8000" style="stroke: #000000; stroke-width: 0.6"/>
</g>
</g>
</g>
<g id="ytick_42">
<g id="line2d_165">
<path d="M 54.3600 47.8800 L 528.8400 47.8800" clip-path="url(#pc51467b4bf)" style="fill: none; stroke: #d3d3d3; stroke-width: 0.8; stroke-linecap: square"/>
</g>
<g id="line2d_166">
<g>
<use href="#m353c5a86b0" x="54.3600" y="47.8800" style="stroke: #000000; stroke-width: 0.6"/>
</g>
</g>
</g>
<g id="text_20">
<text textLength="113.40" lengthAdjust="spacingAndGlyphs" style="font-size: 10.500px; font-family: 'Liberation Sans'; text-anchor: middle" x="18.75438" y="214.026283" transform="rotate(-90 18.75438 214.026283)">Power spectral density</text>
</g>
<g id="text_21">
<text textLength="18.88" lengthAdjust="spacingAndGlyphs" style="font-size: 10.500px; font-family: 'Liberation Sans'; text-anchor: start" x="54.099692" y="35.143737" transform="rotate(-0 54.099692 35.143737)">1e4</text>
</g>
</g>
<g id="line2d_167">
<path d="M 54.099692 373.719918 
L 65.007892 373.719918 
L 68.564913 370.354866 
L 72.121935 369.199699 
L 83.030134 366.269927 
L 90.381312 364.043301 
L 93.938334 363.457346 
L 101.289511 360.276451 
L 108.403554 357.514095 
L 112.197711 355.538592 
L 115.754732 353.261741 
L 119.311754 351.252755 
L 123.10591 348.908937 
L 126.662932 345.560627 
L 130.219953 341.207823 
L 133.776975 337.859513 
L 137.571131 333.037946 
L 141.128153 325.504247 
L 148.47933 309.097526 
L 152.510622 297.545855 
L 156.067643 279.130147 
L 159.861799 237.493906 
L 163.418821 194.300701 
L 166.975842 130.682802 
L 170.532864 120.637871 
L 174.32702 96.027789 
L 177.884042 81.295223 
L 181.441063 79.621068 
L 185.23522 54.173908 
L 188.792241 106.07272 
L 192.112128 233.308518 
L 195.66915 295.587093 
L 199.463306 327.898289 
L 203.020327 296.926417 
L 206.529922 240.507386 
L 210.13437 269.302856 
L 213.691392 308.310673 
L 217.248414 311.491568 
L 221.04257 312.16123 
L 224.599591 320.36459 
L 228.156613 337.608389 
L 231.713634 351.671293 
L 235.507791 351.336462 
L 239.064812 350.164554 
L 242.621834 350.164554 
L 246.41599 350.6668 
L 249.973012 354.349942 
L 253.530033 356.861175 
L 257.087055 357.865668 
L 260.881211 358.367914 
L 264.438233 359.372407 
L 267.995254 360.544316 
L 275.346432 363.725211 
L 278.903454 364.89712 
L 286.254631 365.901613 
L 289.811653 365.566782 
L 297.162831 362.553302 
L 300.719852 363.222965 
L 304.276874 366.738691 
L 308.07103 367.073522 
L 311.628052 366.906106 
L 318.742095 365.566782 
L 322.536251 365.566782 
L 326.093273 367.073522 
L 329.650294 368.915092 
L 333.44445 370.254417 
L 337.001472 371.25891 
L 340.558494 371.761156 
L 344.35265 371.928572 
L 347.909671 371.928572 
L 351.466693 369.919585 
L 355.023714 367.408353 
L 358.817871 365.064535 
L 362.374892 366.236444 
L 365.931914 368.412846 
L 369.72607 369.082508 
L 373.283092 369.417339 
L 376.840113 369.417339 
L 380.397135 369.249923 
L 384.191291 369.584754 
L 387.748313 369.584754 
L 391.305334 369.249923 
L 395.09949 369.082508 
L 398.656512 369.417339 
L 402.213534 370.087001 
L 406.00769 371.091494 
L 409.564711 371.426325 
L 427.586954 370.589248 
L 434.938132 369.919585 
L 438.495153 369.417339 
L 445.846331 367.575768 
L 449.403353 367.240937 
L 452.960374 367.408353 
L 456.75453 369.249923 
L 460.311552 370.589248 
L 463.868574 371.091494 
L 467.66273 371.091494 
L 474.776773 371.426325 
L 482.127951 371.091494 
L 485.684972 370.589248 
L 489.241994 370.589248 
L 493.03615 370.756663 
L 496.593172 370.421832 
L 500.150193 370.589248 
L 503.707215 370.589248 
L 507.501371 370.254417 
L 511.058393 369.75217 
L 514.615414 369.584754 
L 518.40957 370.589248 
L 521.966592 371.25891 
L 525.523614 371.25891 
L 525.523614 371.25891 
" clip-path="url(#pc51467b4bf)" style="fill: none; stroke: #800080; stroke-width: 1.5; stroke-linecap: square"/>
</g>
<g id="line2d_168">
<path d="M 54.099692 373.719918 
L 65.007892 373.719918 
L 68.564913 370.605989 
L 72.121935 369.450822 
L 79.473113 367.475319 
L 83.030134 366.755432 
L 90.381312 364.712963 
L 93.938334 363.624762 
L 101.289511 360.443867 
L 108.403554 357.698252 
L 112.197711 355.890165 
L 115.754732 353.512864 
L 119.311754 351.503878 
L 123.10591 349.160061 
L 126.662932 345.81175 
L 130.219953 341.458946 
L 133.776975 338.110636 
L 137.571131 333.540192 
L 141.128153 326.50874 
L 148.47933 310.102019 
L 152.510622 298.382932 
L 156.067643 279.967225 
L 159.861799 239.168062 
L 163.418821 194.802948 
L 166.975842 131.185049 
L 170.532864 121.140117 
L 174.32702 97.701944 
L 177.884042 87.489597 
L 181.441063 87.489597 
L 185.23522 65.558164 
L 188.792241 109.421031 
L 192.112128 250.050071 
L 195.66915 326.224134 
L 199.463306 349.494892 
L 203.020327 310.319659 
L 206.529922 248.710746 
L 210.13437 273.488244 
L 213.691392 312.830892 
L 217.248414 317.685942 
L 221.04257 318.188189 
L 224.599591 324.215148 
L 228.156613 342.128609 
L 231.713634 355.52185 
L 235.507791 356.024097 
L 239.064812 355.187019 
L 242.621834 354.684773 
L 246.41599 354.349942 
L 249.973012 357.196006 
L 253.530033 359.037576 
L 257.087055 360.04207 
L 260.881211 360.544316 
L 267.995254 362.218471 
L 271.78941 363.39038 
L 275.346432 364.729704 
L 278.903454 365.734197 
L 282.69761 366.403859 
L 286.254631 366.738691 
L 293.368674 367.073522 
L 297.162831 367.073522 
L 308.07103 367.575768 
L 315.185073 367.575768 
L 318.742095 367.408353 
L 322.536251 367.575768 
L 326.093273 368.078015 
L 333.44445 370.254417 
L 337.001472 371.426325 
L 340.558494 372.095987 
L 344.35265 372.430818 
L 351.466693 372.430818 
L 358.817871 372.095987 
L 362.374892 371.761156 
L 369.72607 372.430818 
L 380.397135 372.849357 
L 402.213534 372.765649 
L 409.564711 371.426325 
L 413.121733 371.593741 
L 416.678754 371.25891 
L 427.586954 370.756663 
L 438.495153 369.75217 
L 442.052175 369.082508 
L 445.846331 368.078015 
L 449.403353 367.910599 
L 452.960374 368.412846 
L 456.75453 370.087001 
L 460.311552 371.091494 
L 463.868574 371.25891 
L 471.219751 371.25891 
L 474.776773 371.426325 
L 478.333794 371.25891 
L 485.684972 371.25891 
L 489.241994 371.091494 
L 493.03615 371.426325 
L 496.593172 371.091494 
L 500.150193 371.426325 
L 503.707215 371.426325 
L 511.058393 371.091494 
L 514.615414 371.091494 
L 518.40957 371.593741 
L 521.966592 371.761156 
L 525.523614 371.593741 
L 525.523614 371.593741 
" clip-path="url(#pc51467b4bf)" style="fill: none; stroke: #ff0000; stroke-width: 1.5; stroke-linecap: square"/>
</g>
<g id="line2d_169">
<path d="M 54.099692 373.719918 
L 65.007892 373.719918 
L 68.564913 373.552502 
L 133.776975 373.552502 
L 137.571131 373.050256 
L 141.128153 372.380594 
L 144.685174 372.548009 
L 148.47933 373.385087 
L 163.418821 373.217671 
L 166.975842 372.715425 
L 174.32702 370.706438 
L 177.884042 368.362621 
L 181.441063 365.851388 
L 185.23522 364.177233 
L 188.792241 360.494091 
L 192.112128 355.30421 
L 195.66915 341.408722 
L 199.463306 351.788484 
L 203.020327 363.17274 
L 206.529922 366.353635 
L 210.13437 370.036776 
L 213.691392 370.371607 
L 217.248414 369.53453 
L 221.04257 369.199699 
L 228.156613 372.112729 
L 231.713634 372.88284 
L 253.530033 373.267896 
L 286.254631 372.430818 
L 289.811653 372.263403 
L 293.368674 370.924079 
L 297.162831 369.249923 
L 300.719852 370.924079 
L 304.276874 372.095987 
L 315.185073 371.928572 
L 318.742095 371.593741 
L 322.536251 371.761156 
L 326.093273 372.095987 
L 344.35265 372.430818 
L 351.466693 371.426325 
L 358.817871 366.236444 
L 362.374892 367.408353 
L 365.931914 369.249923 
L 369.72607 370.087001 
L 391.305334 370.254417 
L 398.656512 370.589248 
L 402.213534 371.426325 
L 406.00769 372.933065 
L 409.564711 373.602727 
L 525.523614 373.602727 
L 525.523614 373.602727 
" clip-path="url(#pc51467b4bf)" style="fill: none; stroke: #008000; stroke-width: 1.5; stroke-linecap: square"/>
</g>
<g id="line2d_170">
<path d="M 54.099692 373.719918 
L 65.007892 373.719918 
L 68.564913 373.552502 
L 166.975842 373.468795 
L 181.441063 373.217671 
L 199.463306 373.217671 
L 206.529922 372.213178 
L 210.13437 372.464301 
L 213.691392 372.380594 
L 217.248414 371.710932 
L 221.04257 371.376101 
L 228.156613 371.376101 
L 235.507791 370.371607 
L 239.064812 370.204192 
L 242.621834 370.371607 
L 246.41599 371.091494 
L 249.973012 371.928572 
L 257.087055 372.765649 
L 286.254631 373.351604 
L 525.523614 373.435311 
L 525.523614 373.435311 
" clip-path="url(#pc51467b4bf)" style="fill: none; stroke: #0000ff; stroke-width: 1.5; stroke-linecap: square"/>
</g>
<g id="line2d_171">
<path d="M 54.099692 373.719918 
L 65.007892 373.719918 
L 68.564913 370.50624 
L 72.121935 369.481098 
L 86.82429 366.420509 
L 90.381312 365.828326 
L 93.938334 365.652934 
L 97.73249 364.719633 
L 101.289511 364.03413 
L 112.197711 362.555334 
L 115.754732 361.901532 
L 123.10591 361.290933 
L 126.662932 360.670403 
L 130.219953 359.874402 
L 133.776975 359.790548 
L 137.571131 359.527991 
L 141.128153 358.665538 
L 144.685174 358.180599 
L 152.510622 358.477065 
L 156.067643 357.902318 
L 159.861799 355.52063 
L 163.418821 355.126215 
L 166.975842 355.379699 
L 170.532864 360.386462 
L 174.32702 363.102831 
L 177.884042 363.597043 
L 181.441063 361.719637 
L 185.23522 356.846224 
L 188.792241 355.102699 
L 192.112128 361.959843 
L 195.66915 366.130488 
L 199.463306 368.7174 
L 203.020327 364.635908 
L 206.529922 357.042578 
L 210.13437 360.135165 
L 213.691392 365.035088 
L 217.248414 365.424035 
L 221.04257 365.621412 
L 224.599591 366.902815 
L 228.156613 369.315935 
L 231.713634 371.202397 
L 235.507791 371.396289 
L 242.621834 371.575339 
L 246.41599 371.737596 
L 249.973012 372.124897 
L 253.530033 372.363423 
L 260.881211 372.420545 
L 282.69761 372.330689 
L 286.254631 372.209495 
L 289.811653 371.92904 
L 297.162831 370.654711 
L 300.719852 370.562172 
L 304.276874 371.43818 
L 308.07103 371.366431 
L 311.628052 371.137005 
L 318.742095 370.239874 
L 322.536251 370.043843 
L 326.093273 370.580354 
L 329.650294 371.352341 
L 337.001472 372.413215 
L 340.558494 372.647693 
L 347.909671 372.686748 
L 351.466693 371.482994 
L 355.023714 369.940085 
L 358.817871 368.457262 
L 362.374892 369.118471 
L 365.931914 370.429211 
L 369.72607 370.827466 
L 373.283092 371.029075 
L 380.397135 370.931929 
L 384.191291 371.155722 
L 387.748313 371.176677 
L 391.305334 371.000481 
L 395.09949 370.939402 
L 398.656512 371.182231 
L 402.213534 371.617905 
L 406.00769 372.234456 
L 409.564711 372.455653 
L 438.495153 371.99451 
L 445.846331 371.530531 
L 449.403353 371.553287 
L 452.960374 371.747886 
L 456.75453 372.427518 
L 460.311552 372.882441 
L 463.868574 373.072632 
L 478.333794 373.227844 
L 514.615414 373.083548 
L 521.966592 373.347584 
L 525.523614 373.349444 
L 525.523614 373.349444 
" clip-path="url(#pc51467b4bf)" style="fill: none; stroke: #00ffff; stroke-width: 1.5; stroke-linecap: square"/>
</g>
<g id="patch_3">
<path d="M 54.3600 390.6000 L 54.3600 38.5200" style="fill: none; stroke: #000000; stroke-width: 0.8; stroke-linejoin: miter; stroke-linecap: square"/>
</g>
<g id="patch_4">
<path d="M 528.8400 390.6000 L 528.8400 38.5200" style="fill: none; stroke: #000000; stroke-width: 0.8; stroke-linejoin: miter; stroke-linecap: square"/>
</g>
<g id="patch_5">
<path d="M 54.3600 390.6000 L 528.8400 390.6000" style="fill: none; stroke: #000000; stroke-width: 0.8; stroke-linejoin: miter; stroke-linecap: square"/>
</g>
<g id="patch_6">
<path d="M 54.3600 38.5200 L 528.8400 38.5200" style="fill: none; stroke: #000000; stroke-width: 0.8; stroke-linejoin: miter; stroke-linecap: square"/>
</g>
<g id="legend_1">
<g id="patch_7">
<path d="M 58.957692 104.880113 
L 107.44332 104.880113 
Q 108.83132 104.880113 108.83132 103.492113 
L 108.83132 43.001737 
Q 108.83132 41.613737 107.44332 41.613737 
L 58.957692 41.613737 
Q 57.569692 41.613737 57.569692 43.001737 
L 57.569692 103.492113 
Q 57.569692 104.880113 58.957692 104.880113 
z
" style="fill: #ffffff; opacity: 0.8; stroke: #cccccc; stroke-linejoin: miter"/>
</g>
<g id="line2d_172">
<path d="M 60.4800 47.5200 L 66.9600 47.5200 L 74.1600 47.5200" style="fill: none; stroke: #800080; stroke-width: 1.5; stroke-linecap: square"/>
</g>
<g id="text_22">
<text textLength="25.38" lengthAdjust="spacingAndGlyphs" dy="0.150" style="font-size: 7.773px; font-family: 'Liberation Sans'; text-anchor: start" x="79.777692" y="50.063053" transform="rotate(-0 79.777692 50.063053)">X+Y+Z</text>
</g>
<g id="line2d_173">
<path d="M 60.4800 58.3200 L 66.9600 58.3200 L 74.1600 58.3200" style="fill: none; stroke: #ff0000; stroke-width: 1.5; stroke-linecap: square"/>
</g>
<g id="text_23">
<text textLength="4.75" lengthAdjust="spacingAndGlyphs" dy="0.150" style="font-size: 7.773px; font-family: 'Liberation Sans'; text-anchor: start" x="79.777692" y="60.649672" transform="rotate(-0 79.777692 60.649672)">X</text>
</g>
<g id="line2d_174">
<path d="M 60.4800 69.1200 L 66.9600 69.1200 L 74.1600 69.1200" style="fill: none; stroke: #008000; stroke-width: 1.5; stroke-linecap: square"/>
</g>
<g id="text_24">
<text textLength="4.24" lengthAdjust="spacingAndGlyphs" dy="0.150" style="font-size: 7.773px; font-family: 'Liberation Sans'; text-anchor: start" x="79.777692" y="71.23629" transform="rotate(-0 79.777692 71.23629)">Y</text>
</g>
<g id="line2d_175">
<path d="M 60.4800 79.2000 L 66.9600 79.2000 L 74.1600 79.2000" style="fill: none; stroke: #0000ff; stroke-width: 1.5; stroke-linecap: square"/>
</g>
<g id="text_25">
<text textLength="4.75" lengthAdjust="spacingAndGlyphs" dy="0.150" style="font-size: 7.773px; font-family: 'Liberation Sans'; text-anchor: start" x="79.777692" y="81.822909" transform="rotate(-0 79.777692 81.822909)">Z</text>
</g>
<g id="line2d_176">
<path d="M 60.4800 95.0400 L 66.9600 95.0400 L 74.1600 95.0400" style="fill: none; stroke: #00ffff; stroke-width: 1.5; stroke-linecap: square"/>
</g>
<g id="text_26">
<text textLength="16.67" lengthAdjust="spacingAndGlyphs" dy="0.150" style="font-size: 7.773px; font-family: 'Liberation Sans'" transform="translate(79.777692 92.409528)">After</text>
<text textLength="23.80" lengthAdjust="spacingAndGlyphs" dy="0.150" style="font-size: 7.773px; font-family: 'Liberation Sans'" transform="translate(79.777692 100.66081)">shaper</text>
</g>
</g>
</g>
<g id="axes_2">
<g id="matplotlib.axis_3">
<g id="ytick_43">
<g id="line2d_177">
<defs>
<path id="mfcdca85a19" d="M 0 0 
L 3.5 0 
" style="stroke: #000000; stroke-width: 0.8"/>
</defs>
<g>
<use href="#mfcdca85a19" x="528.8400" y="377.6400" style="stroke: #000000; stroke-width: 0.8"/>
</g>
</g>
<g id="text_27">
<text textLength="15.90" lengthAdjust="spacingAndGlyphs" style="font-size: 10.500px; font-family: 'Liberation Sans'; text-anchor: start" x="535.369231" y="381.195566" transform="rotate(-0 535.369231 381.195566)">0.0</text>
</g>
</g>
<g id="ytick_44">
<g id="line2d_178">
<g>
<use href="#mfcdca85a19" x="528.8400" y="312.8400" style="stroke: #000000; stroke-width: 0.8"/>
</g>
</g>
<g id="text_28">
<text textLength="15.90" lengthAdjust="spacingAndGlyphs" style="font-size: 10.500px; font-family: 'Liberation Sans'; text-anchor: start" x="535.369231" y="316.542909" transform="rotate(-0 535.369231 316.542909)">0.2</text>
</g>
</g>
<g id="ytick_45">
<g id="line2d_179">
<g>
<use href="#mfcdca85a19" x="528.8400" y="248.7600" style="stroke: #000000; stroke-width: 0.8"/>
</g>
</g>
<g id="text_29">
<text textLength="15.90" lengthAdjust="spacingAndGlyphs" style="font-size: 10.500px; font-family: 'Liberation Sans'; text-anchor: start" x="535.369231" y="251.890251" transform="rotate(-0 535.369231 251.890251)">0.4</text>
</g>
</g>
<g id="ytick_46">
<g id="line2d_180">
<g>
<use href="#mfcdca85a19" x="528.8400" y="183.9600" style="stroke: #000000; stroke-width: 0.8"/>
</g>
</g>
<g id="text_30">
<text textLength="15.90" lengthAdjust="spacingAndGlyphs" style="font-size: 10.500px; font-family: 'Liberation Sans'; text-anchor: start" x="535.369231" y="187.237594" transform="rotate(-0 535.369231 187.237594)">0.6</text>
</g>
</g>
<g id="ytick_47">
<g id="line2d_181">
<g>
<use href="#mfcdca85a19" x="528.8400" y="119.1600" style="stroke: #000000; stroke-width: 0.8"/>
</g>
</g>
<g id="text_31">
<text textLength="15.90" lengthAdjust="spacingAndGlyphs" style="font-size: 10.500px; font-family: 'Liberation Sans'; text-anchor: start" x="535.369231" y="122.584936" transform="rotate(-0 535.369231 122.584936)">0.8</text>
</g>
</g>
<g id="ytick_48">
<g id="line2d_182">
<g>
<use href="#mfcdca85a19" x="528.8400" y="54.3600" style="stroke: #000000; stroke-width: 0.8"/>
</g>
</g>
<g id="text_32">
<text textLength="15.90" lengthAdjust="spacingAndGlyphs" style="font-size: 10.500px; font-family: 'Liberation Sans'; text-anchor: start" x="535.369231" y="57.932278" transform="rotate(-0 535.369231 57.932278)">1.0</text>
</g>
</g>
<g id="text_33">
<text textLength="167.64" lengthAdjust="spacingAndGlyphs" style="font-size: 10.500px; font-family: 'Liberation Sans'; text-anchor: middle" x="562.870793" y="214.026283" transform="rotate(-90 562.870793 214.026283)">Shaper vibration reduction (ratio)</text>
</g>
</g>
<g id="line2d_183">
<path d="M 54.099692 54.13306 
L 57.656714 55.666094 
L 61.45087 57.955454 
L 65.007892 60.707662 
L 68.564913 64.037942 
L 72.121935 67.936983 
L 75.916091 72.711081 
L 79.473113 77.751263 
L 83.030134 83.324793 
L 86.82429 89.842355 
L 90.381312 96.473763 
L 93.938334 103.593592 
L 97.73249 111.707791 
L 101.289511 119.783698 
L 104.846533 128.294686 
L 108.403554 137.221733 
L 112.197711 147.180232 
L 115.754732 156.903739 
L 119.311754 166.980548 
L 126.662932 188.831275 
L 133.776975 211.136181 
L 141.128153 235.177445 
L 148.47933 260.008363 
L 159.861799 299.444353 
L 170.532864 336.517229 
L 174.32702 346.946155 
L 177.884042 354.208427 
L 181.441063 357.326965 
L 185.23522 354.372958 
L 188.792241 347.512105 
L 192.112128 339.432148 
L 203.020327 303.877416 
L 210.13437 281.415301 
L 217.248414 259.90625 
L 224.599591 238.885668 
L 228.156613 229.206301 
L 231.713634 219.872077 
L 235.507791 210.314597 
L 239.064812 201.744878 
L 242.621834 193.567755 
L 246.41599 185.293373 
L 249.973012 177.969205 
L 253.530033 171.075884 
L 257.087055 164.623929 
L 260.881211 158.239074 
L 264.438233 152.728456 
L 267.995254 147.685417 
L 271.78941 142.828922 
L 275.346432 138.771886 
L 278.903454 135.199413 
L 282.69761 131.926828 
L 286.254631 129.365847 
L 289.811653 127.297106 
L 293.368674 125.721096 
L 297.162831 124.582544 
L 300.719852 124.022179 
L 304.276874 123.949936 
L 308.07103 124.406964 
L 311.628052 125.331418 
L 315.185073 126.730318 
L 318.742095 128.597285 
L 322.536251 131.096386 
L 326.093273 133.90652 
L 329.650294 137.159441 
L 333.44445 141.105907 
L 337.001472 145.241004 
L 340.558494 149.785208 
L 344.35265 155.06889 
L 347.909671 160.417163 
L 351.466693 166.132647 
L 355.023714 172.199895 
L 358.817871 179.040896 
L 362.374892 185.782215 
L 365.931914 192.822075 
L 369.72607 200.638373 
L 376.840113 216.060929 
L 384.191291 232.880394 
L 391.305334 249.788373 
L 395.09949 256.563381 
L 398.656512 260.973781 
L 402.213534 265.172342 
L 406.00769 269.365857 
L 409.564711 272.980463 
L 413.121733 276.240174 
L 416.678754 279.099117 
L 420.472911 281.659149 
L 424.029932 283.561723 
L 427.586954 284.954238 
L 431.38111 285.858189 
L 434.938132 286.155778 
L 438.495153 285.930051 
L 442.052175 285.202311 
L 445.846331 283.909224 
L 449.403353 282.255863 
L 452.960374 280.223794 
L 456.75453 277.695618 
L 460.311552 275.041474 
L 463.868574 272.163818 
L 471.219751 265.710147 
L 474.776773 262.43113 
L 478.333794 258.322125 
L 485.684972 243.605275 
L 489.241994 236.813636 
L 493.03615 229.840349 
L 496.593172 223.576986 
L 500.150193 217.595788 
L 503.707215 211.911358 
L 507.501371 206.189637 
L 511.058393 201.157932 
L 514.615414 196.458239 
L 518.40957 191.821156 
L 521.966592 187.83444 
L 525.523614 184.203385 
L 525.523614 184.203385 
" clip-path="url(#pc51467b4bf)" style="fill: none; stroke-dasharray: 1.5,2.475; stroke-dashoffset: 0; stroke: #1f77b4; stroke-width: 1.5"/>
</g>
<g id="line2d_184">
<path d="M 54.099692 54.13306 
L 57.656714 56.447799 
L 61.45087 59.83781 
L 65.007892 63.859595 
L 68.564913 68.674813 
L 72.121935 74.257306 
L 75.916091 81.024284 
L 79.473113 88.095092 
L 83.030134 95.8324 
L 86.82429 104.776274 
L 90.381312 113.764781 
L 93.938334 123.292429 
L 97.73249 133.997397 
L 101.289511 144.490666 
L 108.403554 166.600821 
L 115.754732 190.651934 
L 126.662932 227.590402 
L 137.571131 264.625781 
L 144.685174 288.095958 
L 148.47933 300.218761 
L 152.510622 312.709571 
L 156.067643 323.339242 
L 159.861799 334.209576 
L 163.418821 343.895692 
L 166.975842 353.002051 
L 170.532864 360.36544 
L 174.32702 365.036925 
L 177.884042 366.205932 
L 181.441063 364.206054 
L 185.23522 360.326362 
L 188.792241 354.910541 
L 192.112128 350.32162 
L 195.66915 345.996175 
L 199.463306 342.104492 
L 203.020327 339.157084 
L 206.529922 336.925894 
L 210.13437 335.339505 
L 213.691392 334.474484 
L 217.248414 334.300968 
L 221.04257 334.868642 
L 224.599591 336.093649 
L 228.156613 337.972757 
L 231.713634 340.486018 
L 235.507791 343.838358 
L 239.064812 346.288494 
L 242.621834 347.965102 
L 246.41599 349.599165 
L 249.973012 350.777234 
L 253.530033 351.385801 
L 257.087055 351.218501 
L 260.881211 350.035772 
L 264.438233 347.964435 
L 267.995254 345.044715 
L 271.78941 341.14869 
L 275.346432 336.9169 
L 278.903454 332.258285 
L 286.254631 314.94492 
L 304.276874 271.741261 
L 311.628052 254.856869 
L 318.742095 239.41626 
L 322.536251 231.643819 
L 326.093273 224.696211 
L 329.650294 218.108421 
L 333.44445 211.510595 
L 337.001472 205.755652 
L 340.558494 200.442267 
L 344.35265 195.286081 
L 347.909671 190.952186 
L 351.466693 187.119493 
L 355.023714 183.802329 
L 358.817871 180.845412 
L 362.374892 178.627872 
L 365.931914 176.953472 
L 369.72607 175.770136 
L 373.283092 175.226722 
L 376.840113 175.229197 
L 380.397135 175.773147 
L 384.191291 176.942291 
L 387.748313 178.580405 
L 391.305334 180.730793 
L 395.09949 183.572895 
L 398.656512 186.733743 
L 402.213534 190.355551 
L 406.00769 194.703078 
L 409.564711 199.208433 
L 413.121733 204.103875 
L 416.678754 209.362565 
L 420.472911 215.340091 
L 424.029932 221.2575 
L 427.586954 227.446054 
L 434.938132 240.952357 
L 442.052175 254.702167 
L 463.868574 297.788325 
L 467.66273 304.389772 
L 471.219751 307.358036 
L 474.776773 310.153188 
L 478.333794 312.760512 
L 482.127951 315.321058 
L 485.684972 317.505331 
L 489.241994 319.474812 
L 493.03615 321.337118 
L 496.593172 322.862013 
L 500.150193 324.179451 
L 503.707215 325.299297 
L 507.501371 326.290558 
L 511.058393 327.045429 
L 514.615414 327.648609 
L 518.40957 328.144357 
L 525.523614 328.733073 
L 525.523614 328.733073 
" clip-path="url(#pc51467b4bf)" style="fill: none; stroke-dasharray: 9.6,2.4,1.5,2.4; stroke-dashoffset: 0; stroke: #ff7f0e; stroke-width: 1.5"/>
</g>
<g id="line2d_185">
<path d="M 54.099692 54.13306 
L 57.656714 56.816015 
L 61.45087 60.729113 
L 65.007892 65.356075 
L 68.564913 70.878643 
L 72.121935 77.260353 
L 75.916091 84.967804 
L 79.473113 92.988917 
L 83.030134 101.728284 
L 86.82429 111.780736 
L 90.381312 121.828597 
L 93.938334 132.417682 
L 97.73249 144.237438 
L 104.846533 167.583123 
L 112.197711 192.833955 
L 130.219953 255.714912 
L 137.571131 280.197302 
L 141.128153 291.527221 
L 144.685174 302.437178 
L 148.47933 313.545673 
L 152.510622 324.675317 
L 156.067643 333.856758 
L 159.861799 342.923837 
L 163.418821 350.676416 
L 166.975842 357.619237 
L 170.532864 363.605053 
L 174.32702 368.539297 
L 177.884042 370.88551 
L 181.441063 370.386362 
L 188.792241 366.549956 
L 192.112128 365.304237 
L 195.66915 364.614674 
L 199.463306 364.673345 
L 203.020327 365.486043 
L 206.529922 366.988411 
L 210.13437 367.696127 
L 213.691392 368.259767 
L 217.248414 368.246917 
L 221.04257 367.135979 
L 224.599591 364.956552 
L 228.156613 361.852533 
L 231.713634 357.026558 
L 235.507791 350.050957 
L 239.064812 343.055625 
L 242.621834 335.677156 
L 246.41599 327.446866 
L 253.530033 311.244596 
L 264.438233 285.339297 
L 275.346432 259.567885 
L 282.69761 243.052531 
L 286.254631 235.464832 
L 289.811653 228.203334 
L 293.368674 221.311345 
L 297.162831 214.412787 
L 300.719852 208.409534 
L 304.276874 202.890422 
L 308.07103 197.571634 
L 311.628052 193.146725 
L 315.185073 189.289162 
L 318.742095 186.018634 
L 322.536251 183.194932 
L 326.093273 181.183577 
L 329.650294 179.795686 
L 333.44445 179.006875 
L 337.001472 178.915718 
L 340.558494 179.448001 
L 344.35265 180.694156 
L 347.909671 182.486241 
L 351.466693 184.866545 
L 355.023714 187.816453 
L 358.817871 191.566133 
L 362.374892 195.620375 
L 365.931914 200.167473 
L 369.72607 205.526186 
L 373.283092 210.99141 
L 376.840113 216.847338 
L 380.397135 223.056211 
L 384.191291 230.023443 
L 391.305334 243.872935 
L 398.656512 258.950316 
L 420.472911 304.448919 
L 427.586954 318.282393 
L 431.38111 324.452003 
L 434.938132 327.536062 
L 438.495153 330.404196 
L 442.052175 333.043712 
L 445.846331 335.59634 
L 449.403353 337.736423 
L 452.960374 339.62907 
L 456.75453 341.376663 
L 460.311552 342.766021 
L 463.868574 343.922784 
L 467.66273 344.912351 
L 471.219751 345.623876 
L 474.776773 346.138982 
L 478.333794 346.469479 
L 482.127951 346.630028 
L 485.684972 346.609028 
L 489.241994 346.427788 
L 493.03615 346.061591 
L 496.593172 345.55784 
L 500.150193 344.899265 
L 503.707215 344.085975 
L 507.501371 343.04859 
L 511.058393 341.918599 
L 514.615414 340.639691 
L 518.40957 339.117423 
L 521.966592 337.549924 
L 525.523614 335.85622 
L 525.523614 335.85622 
" clip-path="url(#pc51467b4bf)" style="fill: none; stroke-dasharray: 1.5,2.475; stroke-dashoffset: 0; stroke: #2ca02c; stroke-width: 1.5"/>
</g>
<g id="line2d_186">
<path d="M 54.099692 54.13306 
L 57.656714 57.323555 
L 61.45087 61.835565 
L 65.007892 67.07004 
L 68.564913 73.235772 
L 72.121935 80.286519 
L 75.916091 88.724101 
L 79.473113 97.433144 
L 83.030134 106.851608 
L 86.82429 117.604958 
L 90.381312 128.274962 
L 93.938334 139.440003 
L 101.289511 163.757344 
L 108.403554 188.351438 
L 123.10591 239.796502 
L 130.219953 263.754514 
L 133.776975 275.261119 
L 137.571131 287.096084 
L 141.128153 297.720564 
L 144.685174 307.83608 
L 148.47933 318.010633 
L 152.510622 328.065457 
L 156.067643 336.241904 
L 159.861799 344.192847 
L 163.418821 350.869876 
L 166.975842 356.72218 
L 170.532864 361.634509 
L 174.32702 365.61302 
L 177.884042 367.856703 
L 181.441063 368.527697 
L 185.23522 367.981028 
L 192.112128 366.116669 
L 195.66915 365.405392 
L 199.463306 365.023619 
L 203.020327 365.04712 
L 206.529922 365.424254 
L 210.13437 366.150314 
L 213.691392 367.164508 
L 217.248414 368.426825 
L 221.04257 369.982919 
L 228.156613 373.14526 
L 231.713634 373.752367 
L 235.507791 373.919507 
L 239.064812 373.590738 
L 242.621834 372.761107 
L 249.973012 369.928296 
L 253.530033 368.810015 
L 257.087055 367.941178 
L 260.881211 367.338222 
L 264.438233 367.114455 
L 267.995254 367.251945 
L 271.78941 367.824726 
L 275.346432 368.678226 
L 282.69761 368.689788 
L 286.254631 368.492657 
L 289.811653 368.00911 
L 293.368674 367.148099 
L 297.162831 365.766064 
L 300.719852 364.042541 
L 304.276874 361.942124 
L 308.07103 357.150283 
L 311.628052 352.000661 
L 315.185073 346.535804 
L 318.742095 340.788166 
L 326.093273 328.168101 
L 333.44445 314.836946 
L 351.466693 281.53797 
L 358.817871 268.71163 
L 362.374892 262.843058 
L 365.931914 257.249581 
L 369.72607 251.629126 
L 373.283092 246.72174 
L 376.840113 242.197996 
L 380.397135 238.087731 
L 384.191291 234.189208 
L 387.748313 231.014299 
L 391.305334 228.323981 
L 395.09949 226.006373 
L 398.656512 224.363973 
L 402.213534 223.24325 
L 406.00769 222.627637 
L 409.564711 222.594484 
L 413.121733 223.084207 
L 416.678754 224.089525 
L 420.472911 225.717808 
L 424.029932 227.750176 
L 427.586954 230.253757 
L 431.38111 233.419758 
L 434.938132 236.826896 
L 438.495153 240.631358 
L 442.052175 244.803717 
L 445.846331 249.62408 
L 449.403353 254.454424 
L 452.960374 259.549975 
L 460.311552 270.763017 
L 467.66273 282.617382 
L 485.684972 312.261493 
L 493.03615 323.752354 
L 496.593172 329.044002 
L 500.150193 334.117718 
L 503.707215 338.943423 
L 507.501371 343.784657 
L 511.058393 346.909065 
L 514.615414 348.66091 
L 518.40957 350.383 
L 521.966592 351.859846 
L 525.523614 353.205291 
L 525.523614 353.205291 
" clip-path="url(#pc51467b4bf)" style="fill: none; stroke-dasharray: 1.5,2.475; stroke-dashoffset: 0; stroke: #d62728; stroke-width: 1.5"/>
</g>
<g id="line2d_187">
<path d="M 54.099692 54.13306 
L 57.656714 57.673871 
L 61.45087 62.586914 
L 65.007892 68.218282 
L 68.564913 74.795945 
L 72.121935 82.268032 
L 75.916091 91.158599 
L 79.473113 100.288934 
L 83.030134 110.118719 
L 86.82429 121.292366 
L 90.381312 132.332173 
L 93.938334 143.837044 
L 101.289511 168.736014 
L 112.197711 207.135519 
L 119.311754 232.130823 
L 126.662932 257.15041 
L 130.219953 268.778738 
L 133.776975 280.007798 
L 137.571131 291.478805 
L 141.128153 301.700148 
L 144.685174 311.354366 
L 148.47933 320.974352 
L 152.510622 330.369892 
L 156.067643 337.903337 
L 159.861799 345.100807 
L 163.418821 351.001855 
L 166.975842 356.007144 
L 170.532864 360.019053 
L 174.32702 363.084667 
L 177.884042 364.774694 
L 181.441063 365.452751 
L 185.23522 365.425805 
L 195.66915 364.514992 
L 199.463306 364.516618 
L 203.020327 364.78421 
L 206.529922 365.301089 
L 210.13437 366.073728 
L 213.691392 367.04381 
L 217.248414 368.177407 
L 228.156613 372.017536 
L 231.713634 373.025055 
L 235.507791 373.601787 
L 239.064812 373.4885 
L 242.621834 372.8472 
L 257.087055 369.186534 
L 260.881211 368.500741 
L 264.438233 368.041495 
L 267.995254 367.774364 
L 271.78941 367.709006 
L 275.346432 367.854856 
L 278.903454 368.19721 
L 282.69761 368.769397 
L 286.254631 369.486426 
L 289.811653 370.361054 
L 293.368674 371.372385 
L 297.162831 372.572868 
L 300.719852 373.060402 
L 304.276874 373.325512 
L 308.07103 373.470401 
L 311.628052 373.450258 
L 315.185073 373.281374 
L 322.536251 372.594922 
L 333.44445 370.104865 
L 337.001472 369.608036 
L 340.558494 369.34337 
L 344.35265 369.343249 
L 351.466693 369.941798 
L 358.817871 369.470114 
L 362.374892 369.146909 
L 365.931914 368.706842 
L 369.72607 368.066476 
L 373.283092 367.276162 
L 376.840113 366.286159 
L 380.397135 365.09358 
L 384.191291 363.606317 
L 387.748313 359.908652 
L 391.305334 355.789501 
L 395.09949 351.127169 
L 398.656512 346.532556 
L 406.00769 336.479421 
L 413.121733 326.256852 
L 427.586954 305.153487 
L 434.938132 294.897019 
L 438.495153 290.179755 
L 442.052175 285.669345 
L 445.846331 281.122917 
L 449.403353 277.141168 
L 452.960374 273.460027 
L 456.75453 269.894139 
L 460.311552 266.913917 
L 463.868574 264.305738 
L 467.66273 261.953356 
L 471.219751 260.16583 
L 474.776773 258.793818 
L 478.333794 257.844868 
L 482.127951 257.303626 
L 485.684972 257.238511 
L 489.241994 257.598704 
L 493.03615 258.444883 
L 496.593172 259.661472 
L 500.150193 261.275037 
L 503.707215 263.270225 
L 507.501371 265.798629 
L 511.058393 268.522319 
L 514.615414 271.564342 
L 518.40957 275.131629 
L 521.966592 278.749678 
L 525.523614 282.603333 
L 525.523614 282.603333 
" clip-path="url(#pc51467b4bf)" style="fill: none; stroke-dasharray: 1.5,2.475; stroke-dashoffset: 0; stroke: #9467bd; stroke-width: 1.5"/>
</g>
<g id="line2d_188"/>
<g id="patch_8">
<path d="M 54.3600 390.6000 L 54.3600 38.5200" style="fill: none; stroke: #000000; stroke-width: 0.8; stroke-linejoin: miter; stroke-linecap: square"/>
</g>
<g id="patch_9">
<path d="M 528.8400 390.6000 L 528.8400 38.5200" style="fill: none; stroke: #000000; stroke-width: 0.8; stroke-linejoin: miter; stroke-linecap: square"/>
</g>
<g id="patch_10">
<path d="M 54.3600 390.6000 L 528.8400 390.6000" style="fill: none; stroke: #000000; stroke-width: 0.8; stroke-linejoin: miter; stroke-linecap: square"/>
</g>
<g id="patch_11">
<path d="M 54.3600 38.5200 L 528.8400 38.5200" style="fill: none; stroke: #000000; stroke-width: 0.8; stroke-linejoin: miter; stroke-linecap: square"/>
</g>
<g id="legend_2">
<g id="patch_12">
<path d="M 296.66435 108.642487 
L 523.511231 108.642487 
Q 524.899231 108.642487 524.899231 107.254487 
L 524.899231 43.001737 
Q 524.899231 41.613737 523.511231 41.613737 
L 296.66435 41.613737 
Q 295.27635 41.613737 295.27635 43.001737 
L 295.27635 107.254487 
Q 295.27635 108.642487 296.66435 108.642487 
z
" style="fill: #ffffff; opacity: 0.8; stroke: #cccccc; stroke-linejoin: miter"/>
</g>
<g id="line2d_189">
<path d="M 298.0800 47.5200 L 305.2800 47.5200 L 311.7600 47.5200" style="fill: none; stroke-dasharray: 1.5,2.475; stroke-dashoffset: 0; stroke: #1f77b4; stroke-width: 1.5"/>
</g>
<g id="text_34">
<text textLength="182.87" lengthAdjust="spacingAndGlyphs" dy="0.150" style="font-size: 7.773px; font-family: 'Liberation Sans'; text-anchor: start" x="317.48435" y="50.063053" transform="rotate(-0 317.48435 50.063053)">ZV (53.8 Hz, vibr=6.5%, sm~=0.06, accel&lt;=11300)</text>
</g>
<g id="line2d_190">
<path d="M 298.0800 58.3200 L 305.2800 58.3200 L 311.7600 58.3200" style="fill: none; stroke-dasharray: 9.6,2.4,1.5,2.4; stroke-dashoffset: 0; stroke: #ff7f0e; stroke-width: 1.5"/>
</g>
<g id="text_35">
<text textLength="184.44" lengthAdjust="spacingAndGlyphs" dy="0.150" style="font-size: 7.773px; font-family: 'Liberation Sans'; text-anchor: start" x="317.48435" y="60.857872" transform="rotate(-0 317.48435 60.857872)">MZV (51.8 Hz, vibr=0.4%, sm~=0.08, accel&lt;=7900)</text>
</g>
<g id="line2d_191">
<path d="M 298.0800 69.1200 L 305.2800 69.1200 L 311.7600 69.1200" style="fill: none; stroke-dasharray: 1.5,2.475; stroke-dashoffset: 0; stroke: #2ca02c; stroke-width: 1.5"/>
</g>
<g id="text_36">
<text textLength="175.38" lengthAdjust="spacingAndGlyphs" dy="0.150" style="font-size: 7.773px; font-family: 'Liberation Sans'; text-anchor: start" x="317.48435" y="71.65269" transform="rotate(-0 317.48435 71.65269)">EI (60.8 Hz, vibr=0.0%, sm~=0.09, accel&lt;=6900)</text>
</g>
<g id="line2d_192">
<path d="M 298.0800 79.9200 L 305.2800 79.9200 L 311.7600 79.9200" style="fill: none; stroke-dasharray: 1.5,2.475; stroke-dashoffset: 0; stroke: #d62728; stroke-width: 1.5"/>
</g>
<g id="text_37">
<text textLength="203.74" lengthAdjust="spacingAndGlyphs" dy="0.150" style="font-size: 7.773px; font-family: 'Liberation Sans'; text-anchor: start" x="317.48435" y="82.447509" transform="rotate(-0 317.48435 82.447509)">2HUMP_EI (76.2 Hz, vibr=0.0%, sm~=0.09, accel&lt;=6500)</text>
</g>
<g id="line2d_193">
<path d="M 298.0800 90.7200 L 305.2800 90.7200 L 311.7600 90.7200" style="fill: none; stroke-dasharray: 1.5,2.475; stroke-dashoffset: 0; stroke: #9467bd; stroke-width: 1.5"/>
</g>
<g id="text_38">
<text textLength="203.74" lengthAdjust="spacingAndGlyphs" dy="0.150" style="font-size: 7.773px; font-family: 'Liberation Sans'; text-anchor: start" x="317.48435" y="93.435347" transform="rotate(-0 317.48435 93.435347)">3HUMP_EI (92.4 Hz, vibr=0.0%, sm~=0.10, accel&lt;=6300)</text>
</g>
<g id="line2d_194"/>
<g id="text_39">
<text textLength="98.02" lengthAdjust="spacingAndGlyphs" dy="0.150" style="font-size: 7.773px; font-family: 'Liberation Sans'; text-anchor: start" x="317.48435" y="104.423184" transform="rotate(-0 317.48435 104.423184)">Recommended shaper: MZV</text>
</g>
</g>
</g>
<g id="text_40">
<text textLength="197.91" lengthAdjust="spacingAndGlyphs" style="font-size: 12.600px; font-family: 'Liberation Sans'; text-anchor: middle" x="291.234462" y="19.337988" transform="rotate(-0 291.234462 19.337988)">Frequency response and shapers</text>
</g>
<g id="text_41">
<text textLength="265.66" lengthAdjust="spacingAndGlyphs" style="font-size: 12.600px; font-family: 'Liberation Sans'; text-anchor: middle" x="291.234462" y="32.377823" transform="rotate(-0 291.234462 32.377823)">(/tmp/resonances_x_20240908_154454.csv)</text>
</g>
</g>
<defs>
<clipPath id="pc51467b4bf">
<rect x="54.099692" y="38.143737" width="474.269538" height="351.765092"/>
</clipPath>
</defs>
</svg>

</body></html>
